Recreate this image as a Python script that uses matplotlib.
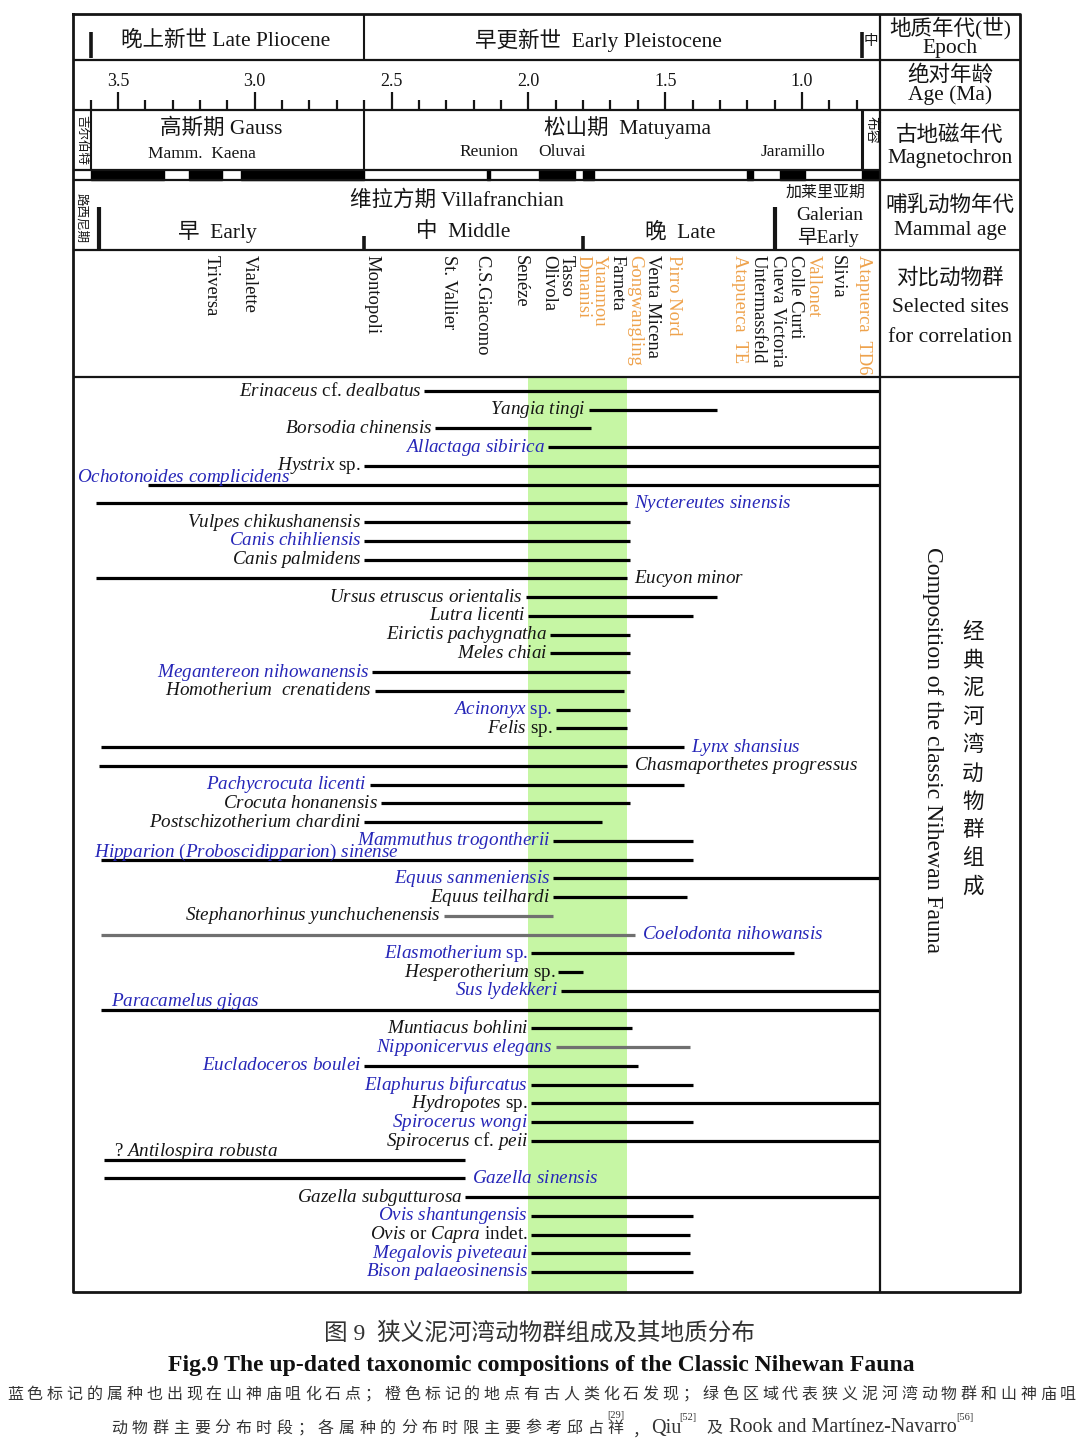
import matplotlib
matplotlib.use("Agg")
import matplotlib.pyplot as plt

plt.rcParams['font.family'] = ['Liberation Serif', 'Noto Sans CJK SC', 'DejaVu Sans']
plt.rcParams['mathtext.fontset'] = 'custom'
plt.rcParams['mathtext.rm'] = 'Liberation Serif'
plt.rcParams['mathtext.it'] = 'Liberation Serif:italic'

INK = '#151515'
BLUE = '#2626b8'
ORANGE = '#eea24c'
GREEN = '#c6f6a4'
GRAY = '#707070'

# ---- data (ages in Ma) ----
species = [
    "Erinaceus cf. dealbatus", "Yangia tingi", "Borsodia chinensis", "Allactaga sibirica",
    "Hystrix sp.", "Ochotonoides complicidens", "Nyctereutes sinensis", "Vulpes chikushanensis",
    "Canis chihliensis", "Canis palmidens", "Eucyon minor", "Ursus etruscus orientalis",
    "Lutra licenti", "Eirictis pachygnatha", "Meles chiai", "Megantereon nihowanensis",
    "Homotherium  crenatidens", "Acinonyx sp.", "Felis sp.", "Lynx shansius",
    "Chasmaporthetes progressus", "Pachycrocuta licenti", "Crocuta honanensis",
    "Postschizotherium chardini", "Mammuthus trogontherii",
    "Hipparion (Proboscidipparion) sinense", "Equus sanmeniensis", "Equus teilhardi",
    "Stephanorhinus yunchuchenensis", "Coelodonta nihowansis", "Elasmotherium sp.",
    "Hesperotherium sp.", "Sus lydekkeri", "Paracamelus gigas", "Muntiacus bohlini",
    "Nipponicervus elegans", "Eucladoceros boulei", "Elaphurus bifurcatus", "Hydropotes sp.",
    "Spirocerus wongi", "Spirocerus cf. peii", "? Antilospira robusta", "Gazella sinensis",
    "Gazella subgutturosa", "Ovis shantungensis", "Ovis or Capra indet.",
    "Megalovis piveteaui", "Bison palaeosinensis",
]
first_ma = [2.38, 1.78, 2.34, 1.93, 2.60, 3.39, 3.58, 2.60, 2.60, 2.60, 3.58, 2.01,
            2.00, 1.92, 1.92, 2.57, 2.56, 1.90, 1.90, 3.56, 3.57, 2.58, 2.54, 2.60,
            1.91, 3.56, 1.91, 1.91, 2.31, 3.56, 1.99, 1.89, 1.88, 3.56, 1.99, 1.90,
            2.60, 1.99, 1.99, 1.99, 1.99, 3.55, 3.55, 2.23, 1.99, 1.99, 1.99, 1.99]
last_ma = [0.0, 1.31, 1.77, 0.0, 0.0, 0.0, 1.64, 1.63, 1.63, 1.63, 1.64, 1.31,
           1.40, 1.63, 1.63, 1.63, 1.65, 1.63, 1.64, 1.43, 1.64, 1.43, 1.63, 1.73,
           1.40, 1.40, 0.0, 1.42, 1.91, 1.61, 1.03, 1.80, 0.0, 0.0, 1.62, 1.41,
           1.60, 1.40, 0.0, 1.40, 0.0, 2.23, 2.23, 0.0, 1.40, 1.41, 1.41, 1.40]
# taxa also found at Shanshenmiaozui (blue)
shenmiaozui = {
    "Allactaga sibirica", "Ochotonoides complicidens", "Nyctereutes sinensis",
    "Canis chihliensis", "Megantereon nihowanensis", "Acinonyx sp.", "Lynx shansius",
    "Pachycrocuta licenti", "Mammuthus trogontherii", "Hipparion (Proboscidipparion) sinense",
    "Equus sanmeniensis", "Coelodonta nihowansis", "Elasmotherium sp.", "Sus lydekkeri",
    "Paracamelus gigas", "Nipponicervus elegans", "Eucladoceros boulei",
    "Elaphurus bifurcatus", "Spirocerus wongi", "Gazella sinensis", "Ovis shantungensis",
    "Megalovis piveteaui", "Bison palaeosinensis",
}
uncertain = {"Stephanorhinus yunchuchenensis", "Coelodonta nihowansis", "Nipponicervus elegans"}
label_right = {"Nyctereutes sinensis", "Eucyon minor", "Lynx shansius",
               "Chasmaporthetes progressus", "Coelodonta nihowansis", "Gazella sinensis"}
label_above = {"Paracamelus gigas", "? Antilospira robusta"}
label_edge = {"Ochotonoides complicidens": 4, "Hipparion (Proboscidipparion) sinense": 21}

nihewan_band = (2.00, 1.64)

sites = ["Triversa", "Vialette", "Montopoli", "St. Vallier", "C.S.Giacomo", "Senéze",
         "Olivola", "Tasso", "Dmanisi", "Yuanmou", "Farneta", "Gongwangling",
         "Venta Micena", "Pirro Nord", "Atapuerca  TE", "Untermassfeld", "Cueva Victoria",
         "Colle Curti", "Vallonet", "Slivia", "Atapuerca  TD6"]
site_ma = [3.16, 3.02, 2.57, 2.29, 2.17, 2.03, 1.925, 1.86, 1.80, 1.74, 1.675, 1.61,
           1.545, 1.47, 1.23, 1.16, 1.09, 1.025, 0.96, 0.87, 0.775]
hominin_sites = {"Dmanisi", "Yuanmou", "Gongwangling", "Pirro Nord", "Atapuerca  TE",
                 "Vallonet", "Atapuerca  TD6"}

normal_chrons = [(3.60, 3.33), (3.24, 3.12), (3.05, 2.60), (2.15, 2.14), (1.96, 1.83),
                 (1.80, 1.76), (1.20, 1.18), (1.08, 0.99), (0.78, 0.0)]
epoch_bounds = [3.60, 0.78]
pleistocene_base = 2.60
mammal_bounds_major = [3.57, 1.10]
mammal_bounds_minor = [2.60, 1.80]

XLIM = (3.664, 0.715)

fig = plt.figure(figsize=(10.8, 14.45), dpi=100)
W, H = 1080, 1445


def box(x0, y0, x1, y1):
    return [x0 / W, 1 - y1 / H, (x1 - x0) / W, (y1 - y0) / H]


# ---- header (age axis) ----
hx = fig.add_axes(box(73, 14, 880, 377))
hx.set_xlim(*XLIM)
hx.set_ylim(377, 14)
hx.axis('off')

for k in range(36, 7, -1):
    a = k / 10
    major = k % 5 == 0
    hx.vlines(a, 92 if major else 100, 109, color=INK, lw=1.6)
    if major:
        hx.text(a, 82, f"{a:.1f}", ha='center', va='center', fontsize=13, color=INK)

hx.broken_barh([(lo, hi - lo) for hi, lo in normal_chrons], (170, 10), color='black')
hx.vlines(epoch_bounds, 32, 58, color=INK, lw=2.6)
hx.vlines(pleistocene_base, 14, 60, color=INK, lw=1.5)
hx.vlines([3.60, pleistocene_base], 110, 170, color=INK, lw=1.5)
hx.vlines(0.78, 110, 170, color=INK, lw=2.2)
hx.vlines(mammal_bounds_major, 207, 250, color=INK, lw=3)
hx.vlines(mammal_bounds_minor, 236, 250, color=INK, lw=2.6)

for s, a in zip(sites, site_ma):
    hx.text(a, 255, s, rotation=-90, ha='center', va='top', fontsize=13.4,
            color=ORANGE if s in hominin_sites else INK)

# ---- main range chart ----
ax = fig.add_axes(box(73, 377, 880, 1292))
ax.set_xlim(*XLIM)
n = len(species)
step = (1272 - 391) / (n - 1)
ax.set_ylim(n - 1 + 20 / step, -14 / step)
ax.axis('off')
ax.axvspan(*nihewan_band, color=GREEN, lw=0, zorder=0)

roman = {"cf.", "sp.", "indet.", "or", "?"}


def fmt(name):
    out = []
    for w in name.split(' '):
        out.append(w if (w in roman or w == '') else r'$\mathit{%s}$' % w)
    return ' '.join(out)


for i, (name, fa, la) in enumerate(zip(species, first_ma, last_ma)):
    col = BLUE if name in shenmiaozui else INK
    ax.hlines(i, la, fa, color=GRAY if name in uncertain else 'black', lw=2.3, zorder=2)
    if name in label_right:
        xy, off, ha = (la, i), (7, 0), 'left'
    elif name in label_above:
        xy, off, ha = (fa, i), (10, 8), 'left'
    elif name in label_edge:
        xy, off, ha = (XLIM[0], i), (label_edge[name], 7), 'left'
    else:
        xy, off, ha = (fa, i), (-3, 0), 'right'
    ax.annotate(fmt(name), xy=xy, xytext=off, textcoords='offset pixels', ha=ha,
                va='center', fontsize=13.8, color=col, annotation_clip=False, zorder=3)

# ---- frame, header text, right column, caption (pixel overlay) ----
ov = fig.add_axes([0, 0, 1, 1])
ov.set_xlim(0, W)
ov.set_ylim(H, 0)
ov.axis('off')
ov.patch.set_alpha(0)

lk = dict(color=INK, lw=1.6, solid_capstyle='butt')
ov.plot([73, 1020, 1020, 73, 73], [14, 14, 1292, 1292, 14], color=INK, lw=2)
for y in (60, 110, 180, 250, 377):
    ov.plot([73, 1020], [y, y], **lk)
ov.plot([73, 880], [170, 170], **lk)
ov.plot([880, 880], [14, 1292], **lk)

tk = dict(ha='center', va='center', color=INK)
ov.text(226, 40, "晚上新世 Late Pliocene", fontsize=15.5, **tk)
ov.text(598, 40, "早更新世  Early Pleistocene", fontsize=15.5, **tk)
ov.text(871, 41, "中", fontsize=10.5, **tk)
ov.text(221, 128, "高斯期 Gauss", fontsize=15.5, **tk)
ov.text(202, 154, "Mamm.  Kaena", fontsize=12.5, **tk)
ov.text(628, 128, "松山期  Matuyama", fontsize=15.5, **tk)
ov.text(489, 152, "Reunion", fontsize=12.5, **tk)
ov.text(562, 152, "Oluvai", fontsize=12.5, **tk)
ov.text(793, 152, "Jaramillo", fontsize=12.5, **tk)
ov.text(81, 140, "吉尔伯特", fontsize=9, rotation=-90, **tk)
ov.text(871, 130, "布容", fontsize=10, rotation=-90, **tk)
ov.text(81, 218, "路西尼期", fontsize=9, rotation=-90, **tk)
ov.text(457, 200, "维拉方期 Villafranchian", fontsize=15.5, **tk)
ov.text(217, 232, "早  Early", fontsize=15.5, **tk)
ov.text(463, 232, "中  Middle", fontsize=15.5, **tk)
ov.text(680, 232, "晚  Late", fontsize=15.5, **tk)
ov.text(826, 193, "加莱里亚期", fontsize=11.5, **tk)
ov.text(830, 216, "Galerian", fontsize=14, **tk)
ov.text(828, 237, "早Early", fontsize=14, **tk)

rc = 950
for txt, y in [("地质年代(世)", 28), ("Epoch", 48), ("绝对年龄", 75), ("Age (Ma)", 95),
               ("古地磁年代", 136), ("Magnetochron", 158), ("哺乳动物年代", 206),
               ("Mammal age", 230), ("对比动物群", 278), ("Selected sites", 308),
               ("for correlation", 337)]:
    ov.text(rc, y, txt, fontsize=15.5, **tk)

ov.text(932, 750, "Composition of the classic Nihewan Fauna", rotation=-90,
        fontsize=17, **tk)
for j, ch in enumerate("经典泥河湾动物群组成"):
    ov.text(973, 632 + j * 28.3, ch, fontsize=15.5, family='Noto Sans CJK SC', **tk)

cap = '#333333'
ov.text(540, 1333, "图 9  狭义泥河湾动物群组成及其地质分布", fontsize=17, ha='center',
        va='center', color=cap)
ov.text(541, 1365, "Fig.9 The up-dated taxonomic compositions of the Classic Nihewan Fauna",
        fontsize=17, fontweight='bold', ha='center', va='center', color='#111111')

line3 = "蓝色标记的属种也出现在山神庙咀化石点；橙色标记的地点有古人类化石发现；绿色区域代表狭义泥河湾动物群和山神庙咀"
for j, ch in enumerate(line3):
    ov.text(15 + j * 19.87, 1394, ch, fontsize=11.5, family='Noto Sans CJK SC',
            ha='center', va='center', color=cap)
line4 = "动物群主要分布时段；各属种的分布时限主要参考邱占祥"
for j, ch in enumerate(line4):
    ov.text(119 + j * 20.7, 1428, ch, fontsize=11.5, family='Noto Sans CJK SC',
            ha='center', va='center', color=cap)
ov.text(607, 1416, "[29]", fontsize=7.5, ha='left', va='center', color=cap)
ov.text(633, 1431, "，", fontsize=11.5, family='Noto Sans CJK SC', ha='left',
        va='center', color=cap)
ov.text(651, 1428, "Qiu", fontsize=14.5, ha='left', va='center', color=cap)
ov.text(679, 1417, "[52]", fontsize=7.5, ha='left', va='center', color=cap)
ov.text(714, 1428, "及", fontsize=11.5, family='Noto Sans CJK SC', ha='center',
        va='center', color=cap)
ov.text(729, 1428, "Rook and Martínez-Navarro", fontsize=14.5, ha='left', va='center',
        color=cap)
ov.text(956, 1417, "[56]", fontsize=7.5, ha='left', va='center', color=cap)

fig.savefig("out.png", dpi=100, facecolor='white')
